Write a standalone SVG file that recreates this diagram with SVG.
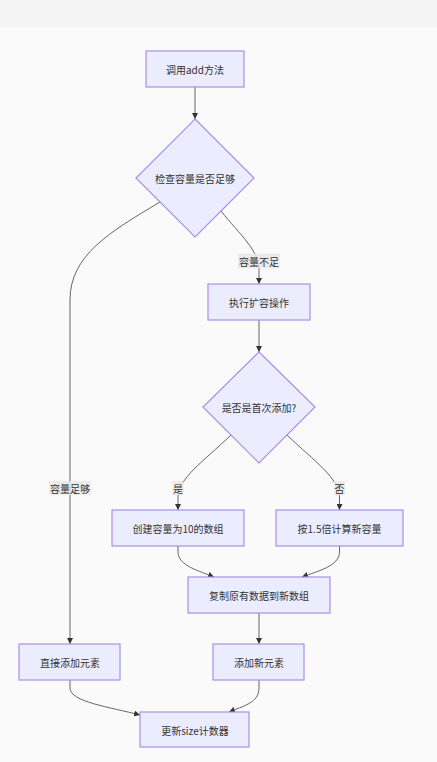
<svg xmlns="http://www.w3.org/2000/svg" width="437" height="762" viewBox="0 0 437 762">
<style>
.n{fill:#ECECFF;stroke:#a98fe3;stroke-width:1.2}
.t{font-family:"Noto Sans CJK SC","Liberation Sans",sans-serif;font-size:10px;fill:#333;text-anchor:middle;dominant-baseline:central}
.e{fill:none;stroke:#666;stroke-width:1}
.lb{fill:#e8e8e8;opacity:0.85}
</style>
<defs>
<marker id="arr" viewBox="0 0 10 10" refX="10" refY="5" markerUnits="userSpaceOnUse" markerWidth="6" markerHeight="6" orient="auto">
<path d="M0,0 L10,5 L0,10 z" fill="#333"/>
</marker>
</defs>
<rect x="0" y="0" width="437" height="762" fill="#fafafa"/>
<rect x="0" y="0" width="437" height="27" fill="#f4f4f4"/>
<g id="edges">
<path class="e" d="M195,87 L195,119" marker-end="url(#arr)"/>
<path class="e" d="M221,211 C240,235 259,250 259,270 L259,284" marker-end="url(#arr)"/>
<path class="e" d="M160,202 C110,232 70,255 70,300 L70,644" marker-end="url(#arr)"/>
<path class="e" d="M259,320 L259,352" marker-end="url(#arr)"/>
<path class="e" d="M231,435 C203,462 178,478 178,498 L178,510" marker-end="url(#arr)"/>
<path class="e" d="M287,435 C315,462 339.5,478 339.5,498 L339.5,510" marker-end="url(#arr)"/>
<path class="e" d="M178,546 L178,552 C178,566 200,571 214,577" marker-end="url(#arr)"/>
<path class="e" d="M339.5,546 L339.5,552 C339.5,566 318,571 302,577" marker-end="url(#arr)"/>
<path class="e" d="M259,613 L259,644" marker-end="url(#arr)"/>
<path class="e" d="M70,680 L70,688 C70,702 110,707 140,715" marker-end="url(#arr)"/>
<path class="e" d="M259,680 L259,688 C259,703 243,706 229,712" marker-end="url(#arr)"/>
<rect class="lb" x="238" y="253.5" width="42" height="15"/>
<text class="t" x="259" y="261">容量不足</text>
<rect class="lb" x="49" y="481" width="42" height="14"/>
<text class="t" x="70" y="488">容量足够</text>
<rect class="lb" x="172.5" y="481" width="11" height="14"/>
<text class="t" x="178" y="488">是</text>
<rect class="lb" x="334" y="481" width="11" height="14"/>
<text class="t" x="339.5" y="488">否</text>
</g>
<g id="A"><rect class="n" x="146" y="51" width="98" height="36"/><text class="t" x="195" y="69">调用add方法</text></g>
<g id="B"><polygon class="n" points="195,119 254,178 195,237 136,178"/><text class="t" x="195" y="178">检查容量是否足够</text></g>
<g id="C"><rect class="n" x="208" y="284" width="102" height="36"/><text class="t" x="259" y="302">执行扩容操作</text></g>
<g id="E"><polygon class="n" points="259,352 315,407 259,463 203,407"/><text class="t" x="259" y="407">是否是首次添加?</text></g>
<g id="F"><rect class="n" x="112" y="510" width="132" height="36"/><text class="t" x="178" y="528">创建容量为10的数组</text></g>
<g id="G"><rect class="n" x="276" y="510" width="127" height="36"/><text class="t" x="339.5" y="528">按1.5倍计算新容量</text></g>
<g id="H"><rect class="n" x="188" y="577" width="142" height="36"/><text class="t" x="259" y="595">复制原有数据到新数组</text></g>
<g id="D"><rect class="n" x="19" y="644" width="101" height="36"/><text class="t" x="70" y="662">直接添加元素</text></g>
<g id="I"><rect class="n" x="213" y="644" width="91" height="36"/><text class="t" x="259" y="662">添加新元素</text></g>
<g id="J"><rect class="n" x="140" y="712" width="109" height="35"/><text class="t" x="195" y="730">更新size计数器</text></g>
</svg>
